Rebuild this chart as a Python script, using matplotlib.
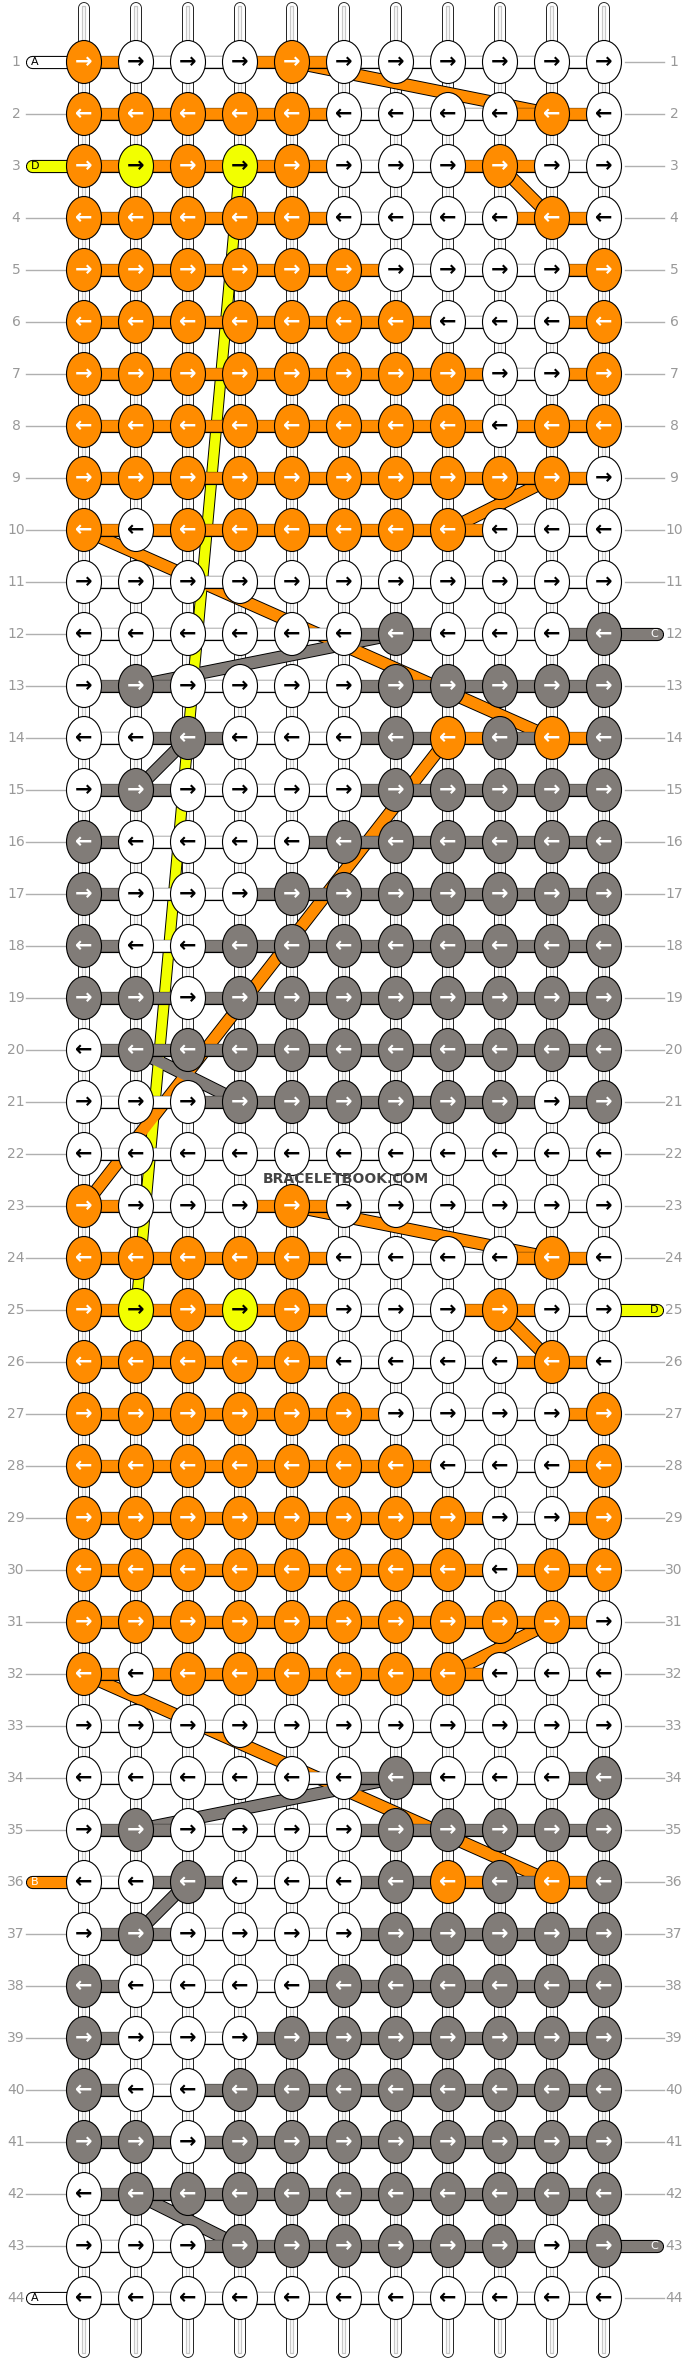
import matplotlib
matplotlib.use("Agg")
import matplotlib.pyplot as plt
from matplotlib.patches import Ellipse

# knot colours, rows 1-22; rows 23-44 repeat the same block
block = [
    "OWWWOWWWWWW",
    "OOOOOWWWWOW",
    "OYOYOWWWOWW",
    "OOOOOWWWWOW",
    "OOOOOOWWWWO",
    "OOOOOOOWWWO",
    "OOOOOOOOWWO",
    "OOOOOOOOWOO",
    "OOOOOOOOOOW",
    "OWOOOOOOWWW",
    "WWWWWWWWWWW",
    "WWWWWWGWWWG",
    "WGWWWWGGGGG",
    "WWGWWWGOGOG",
    "WGWWWWGGGGG",
    "GWWWWGGGGGG",
    "GWWWGGGGGGG",
    "GWWGGGGGGGG",
    "GGWGGGGGGGG",
    "WGGGGGGGGGG",
    "WWWGGGGGGWG",
    "WWWWWWWWWWW",
]
rows = block + block
n_rows = len(rows)
n_cols = 11

palette = {"O": "#ff8c00", "W": "#ffffff", "G": "#817c78", "Y": "#f2ff00"}

# travelling threads: (colour, col0, row0, col1, row1)
diagonals = [
    ("Y", 4, 3, 2, 25),
    ("O", 5, 1, 10, 2), ("O", 9, 3, 10, 4), ("O", 10, 9, 8, 10),
    ("O", 1, 10, 10, 14), ("O", 8, 14, 1, 23),
    ("G", 7, 12, 2, 13), ("G", 3, 14, 2, 15), ("G", 2, 20, 4, 21),
    ("O", 5, 23, 10, 24), ("O", 9, 25, 10, 26), ("O", 10, 31, 8, 32),
    ("O", 1, 32, 10, 36),
    ("G", 7, 34, 2, 35), ("G", 3, 36, 2, 37), ("G", 2, 42, 4, 43),
]
# loose ends: (row, side, colour, letter)
stubs = [(1, "L", "W", "A"), (3, "L", "Y", "D"), (12, "R", "G", "C"),
         (25, "R", "Y", "D"), (36, "L", "O", "B"), (43, "R", "G", "C"),
         (44, "L", "W", "A")]


def cx(c):
    return 84 + 52 * (c - 1)


def ry(r):
    return 62 + 52 * (r - 1)


fig = plt.figure(figsize=(6.88, 23.6), dpi=100)
ax = fig.add_axes([0, 0, 1, 1])
ax.set_xlim(0, 688)
ax.set_ylim(2360, 0)
ax.axis("off")

# vertical strings
for c in range(1, n_cols + 1):
    x = cx(c)
    ax.plot([x, x], [8, 2352], color="black", lw=8.5, solid_capstyle="round", zorder=1)
    ax.plot([x, x], [8, 2352], color="white", lw=7.3, solid_capstyle="round", zorder=1.1)
    ax.plot([x, x], [8, 2352], color="#c8c8c8", lw=3.0, zorder=1.2)
    ax.plot([x, x], [8, 2352], color="white", lw=1.2, zorder=1.3)

# row labels and guide lines
for r in range(1, n_rows + 1):
    y = ry(r)
    sides = [s[1] for s in stubs if s[0] == r]
    if "L" not in sides:
        ax.plot([26, 66], [y, y], color="#b0b0b0", lw=1, zorder=0.5)
    if "R" not in sides:
        ax.plot([625, 664], [y, y], color="#b0b0b0", lw=1, zorder=0.5)
    ax.text(16, y, str(r), ha="center", va="center", fontsize=10, color="#999999")
    ax.text(674, y, str(r), ha="center", va="center", fontsize=10, color="#999999")

# loose ends
for r, side, col, letter in stubs:
    y = ry(r)
    x0, x1 = (32, 70) if side == "L" else (620, 657)
    ax.plot([x0, x1], [y, y], color="black", lw=9.5, solid_capstyle="round", zorder=2)
    ax.plot([x0, x1], [y, y], color=palette[col], lw=8, solid_capstyle="round", zorder=2.1)
    lx = x0 + 3 if side == "L" else x1 - 3
    tc = "white" if col in "OG" else "black"
    ax.text(lx, y, letter, ha="center", va="center", fontsize=8, color=tc, zorder=2.2)

# diagonal threads
for col, c0, r0, c1, r1 in diagonals:
    xs, ys = [cx(c0), cx(c1)], [ry(r0), ry(r1)]
    w = 7 if col == "Y" else 8
    ax.plot(xs, ys, color="black", lw=w + 1.4, zorder=2.5)
    ax.plot(xs, ys, color=palette[col], lw=w, zorder=2.6)

# horizontal bars between knots
for r, row in enumerate(rows, start=1):
    y = ry(r)
    for c in range(1, n_cols):
        a, b = row[c - 1], row[c]
        cols = [k for k in (a, b) if k in "OG"]
        col = palette[cols[0]] if cols else "white"
        if col == "white" and ("Y" in (a, b)):
            col = palette["O"]
        ax.plot([cx(c), cx(c + 1)], [y, y], color="black", lw=9.5, zorder=3)
        ax.plot([cx(c), cx(c + 1)], [y, y], color=col, lw=8.3, zorder=3.1)

# knots
for r, row in enumerate(rows, start=1):
    y = ry(r)
    arrow = "→" if r % 2 == 1 else "←"
    for c, k in enumerate(row, start=1):
        ax.add_patch(Ellipse((cx(c), y), 35, 43, facecolor=palette[k],
                             edgecolor="black", lw=0.8, zorder=4))
        tc = "white" if k in "OG" else "black"
        ax.text(cx(c), y, arrow, ha="center", va="center", fontsize=15,
                fontweight="bold", color=tc, zorder=5)

ax.text(346, 1179, "BRACELETBOOK.COM", ha="center", va="center", fontsize=10,
        fontweight="bold", color="#444444", zorder=6)

fig.savefig("out.png", dpi=100)
